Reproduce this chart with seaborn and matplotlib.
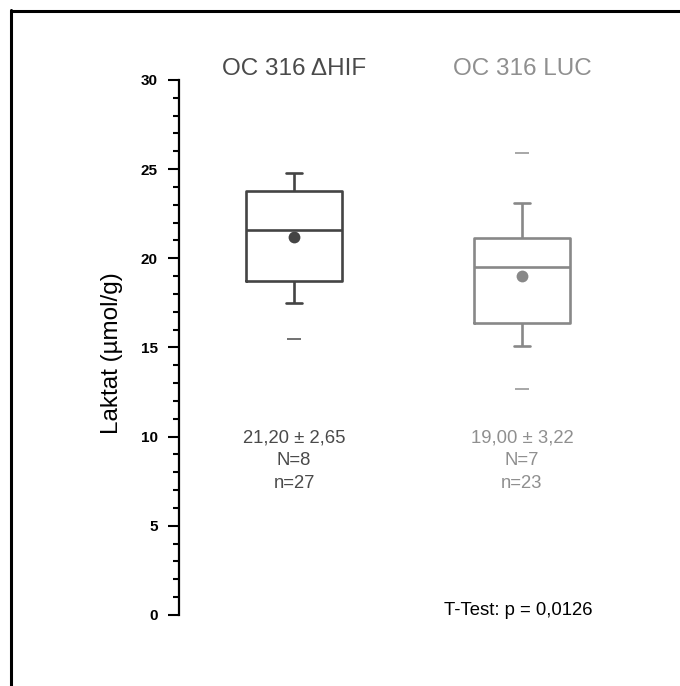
import numpy as np
import pandas as pd
import matplotlib
matplotlib.use("Agg")
import matplotlib.pyplot as plt
from matplotlib.lines import Line2D
from matplotlib.ticker import MultipleLocator
import seaborn as sns

# Groups and their summary values (µmol/g)
groups = ["OC 316 \u0394HIF", "OC 316 LUC"]
whisker_low = [17.5, 15.1]
quartile_1 = [18.75, 16.35]
medians = [21.6, 19.5]
quartile_3 = [23.8, 21.15]
whisker_high = [24.8, 23.1]
means = [21.20, 19.00]
sds = [2.65, 3.22]
n_animals = [8, 7]
n_samples = [27, 23]
# Extreme values shown as short dashes
extreme_groups = ["OC 316 \u0394HIF", "OC 316 LUC", "OC 316 LUC"]
extreme_values = [15.45, 25.9, 12.65]
p_value = "0,0126"

line_colors = ["#444444", "#888888"]
text_colors = ["#4a4a4a", "#8f8f8f"]
dash_colors = ["#666666", "#a0a0a0"]

sns.set_theme(style="white")
plt.rcParams["font.family"] = ["Liberation Sans", "DejaVu Sans"]

# Five-number tables per group: with whis=(0, 100) the whiskers reach the
# outer values and the quartiles fall exactly on the inner ones.
rows = []
for i, g in enumerate(groups):
    for v in (whisker_low[i], quartile_1[i], medians[i], quartile_3[i], whisker_high[i]):
        rows.append({"group": g, "value": v})
box_df = pd.DataFrame(rows)

fig = plt.figure(figsize=(6.8, 6.86), dpi=100)
ax = fig.add_axes([0.2625, 0.1035, 0.6728, 0.7799])

palette = dict(zip(groups, line_colors))
sns.boxplot(data=box_df, x="group", y="value", hue="group", order=groups,
            hue_order=groups, palette=palette, fill=False, width=0.42,
            whis=(0, 100), linewidth=1.9, capwidths=0.066, legend=False, ax=ax)

# Mean markers
mean_df = pd.DataFrame({"group": groups, "value": means})
sns.stripplot(data=mean_df, x="group", y="value", hue="group", order=groups,
              hue_order=groups, palette=palette, jitter=False, size=8.5,
              linewidth=0, legend=False, ax=ax)

# Extreme value dashes
ext_df = pd.DataFrame({"group": extreme_groups, "value": extreme_values})
for g, c in zip(groups, dash_colors):
    sub = ext_df[ext_df["group"] == g]
    sns.stripplot(data=sub, x="group", y="value", order=groups, color=c,
                  edgecolor=c, marker="_", size=9.5, linewidth=1.3,
                  jitter=False, legend=False, ax=ax)

ax.set_xlim(-0.5066, 1.5)
ax.set_ylim(0, 30)
ax.set_xticks([])
ax.set_xlabel("")
for side in ("top", "right", "bottom"):
    ax.spines[side].set_visible(False)
ax.spines["left"].set_linewidth(1.6)
ax.spines["left"].set_color("black")

ax.yaxis.set_major_locator(MultipleLocator(5))
ax.yaxis.set_minor_locator(MultipleLocator(1))
ax.tick_params(axis="y", which="major", direction="out", length=8, width=1.5,
               color="black", left=True, pad=7, labelsize=11,
               labelcolor="black")
ax.tick_params(axis="y", which="minor", direction="out", length=4.3, width=1.5,
               color="black", left=True)
for lbl in ax.get_yticklabels():
    lbl.set_fontweight("bold")

ax.set_ylabel("Laktat (\u00b5mol/g)", fontsize=17.5, color="black")
ax.yaxis.set_label_coords(-0.121, 0.49)

# Group titles
for i, g in enumerate(groups):
    ax.text(i, 30.62, g, ha="center", va="center", fontsize=17.5,
            color=text_colors[i], clip_on=False)

# Summary statistics per group
for i in range(len(groups)):
    lines = [f"{means[i]:.2f} \u00b1 {sds[i]:.2f}".replace(".", ","),
             f"N={n_animals[i]}", f"n={n_samples[i]}"]
    for txt, y in zip(lines, (9.95, 8.66, 7.4)):
        ax.text(i, y, txt, ha="center", va="center", fontsize=13.3,
                color=text_colors[i])

ax.text(0.982, 0.28, f"T-Test: p = {p_value}", ha="center", va="center",
        fontsize=13.3, color="black")

# Outer frame lines at the top and left edges
fig.add_artist(Line2D([10.5 / 680, 1.0], [1 - 11 / 686, 1 - 11 / 686],
                      transform=fig.transFigure, color="black", linewidth=2.2))
fig.add_artist(Line2D([11 / 680, 11 / 680], [0.0, 1 - 10 / 686],
                      transform=fig.transFigure, color="black", linewidth=2.2))

fig.savefig("out.png", dpi=100)
